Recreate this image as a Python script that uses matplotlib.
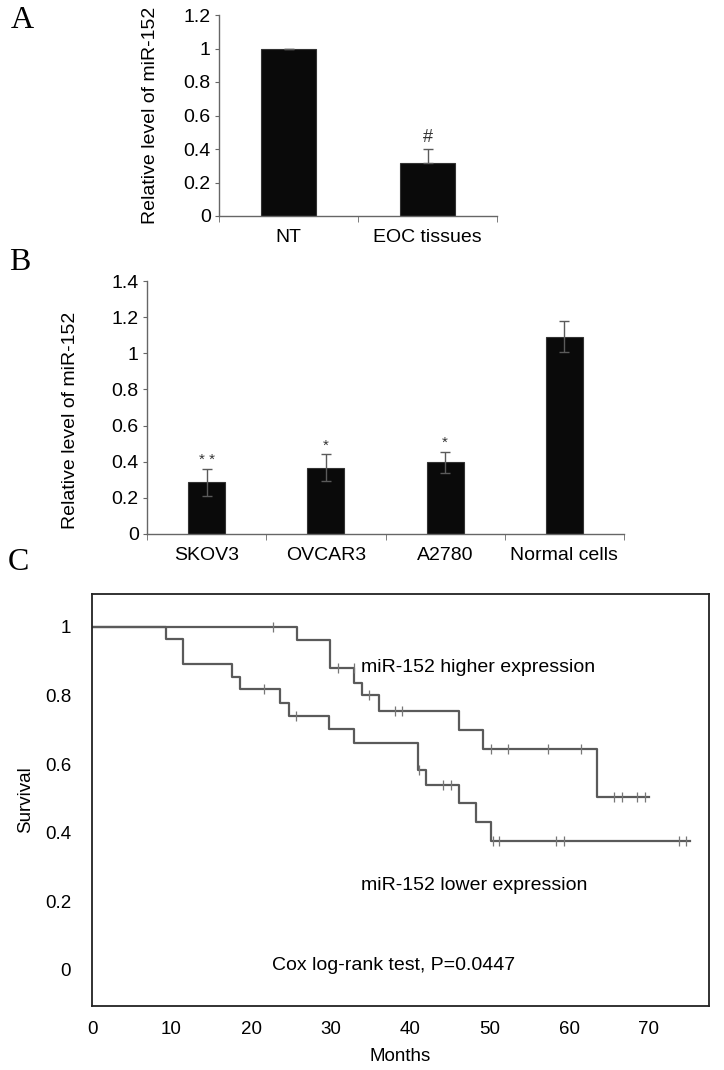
import numpy as np
import matplotlib

matplotlib.use("Agg")
import matplotlib.pyplot as plt

plt.rcParams["font.family"] = ["Liberation Sans", "DejaVu Sans"]

# panel A
a_groups = ["NT", "EOC tissues"]
a_values = [1.0, 0.318]
a_errors = [0.0, 0.08]
a_marks = ["", "#"]

# panel B
b_groups = ["SKOV3", "OVCAR3", "A2780", "Normal cells"]
b_values = [0.286, 0.367, 0.397, 1.092]
b_errors = [0.073, 0.074, 0.058, 0.085]
b_marks = ["* *", "*", "*", ""]

# panel C, Kaplan-Meier steps (months, survival)
high_times = [0, 25.8, 29.9, 33.0, 34.0, 36.1, 46.2, 49.2, 63.5]
high_surv = [1.0, 0.962, 0.881, 0.838, 0.801, 0.755, 0.701, 0.645, 0.505]
high_end = 70.0
high_censor = [22.8, 30.9, 32.9, 34.8, 38.1, 39.0, 50.2, 52.3, 57.4, 61.5, 65.6, 66.6, 68.6, 69.6]

low_times = [0, 9.3, 11.4, 17.6, 18.6, 23.7, 24.8, 29.8, 33.0, 41.0, 42.0, 46.2, 48.3, 50.2]
low_surv = [1.0, 0.964, 0.891, 0.855, 0.818, 0.779, 0.741, 0.702, 0.662, 0.583, 0.539, 0.486, 0.431, 0.377]
low_end = 75.2
low_censor = [21.6, 25.7, 41.1, 44.1, 45.1, 50.4, 51.2, 58.4, 59.4, 73.8, 74.7]

W, H = 724, 1070
fig = plt.figure(figsize=(W / 100, H / 100), dpi=100)


def box(left, top, right, bottom):
    return [left / W, 1 - bottom / H, (right - left) / W, (bottom - top) / H]


spine_col = "#666666"


def bar_panel(ax, groups, values, errors, marks, ymax, width, mark_pad, lower_err):
    x = np.arange(len(groups))
    ax.bar(x, values, width=width, color="#0a0a0a", edgecolor="#333333", linewidth=0.8)
    low = errors if lower_err else np.zeros(len(x))
    ax.errorbar(x, values, yerr=[low, errors], fmt="none", zorder=3,
                ecolor="#5a5a5a", elinewidth=1, capsize=3.5, capthick=1)
    for xi, v, e, m in zip(x, values, errors, marks):
        if m:
            ax.text(xi, v + e + mark_pad, m, ha="center", va="bottom",
                    fontsize=11 if m != "#" else 13, color="#333333")
    ax.set_xlim(-0.5, len(groups) - 0.5)
    ax.set_ylim(0, ymax)
    ticks = np.arange(0, ymax + 0.01, 0.2)
    ax.set_yticks(ticks)
    ax.set_yticklabels(["0"] + [f"{t:g}" for t in ticks[1:]])
    ax.set_xticks(x)
    ax.set_xticklabels(groups)
    ax.set_xticks(np.arange(-0.5, len(groups)), minor=True)
    ax.tick_params(axis="x", which="major", length=0, pad=9, labelsize=14)
    ax.tick_params(axis="x", which="minor", length=4, color=spine_col, direction="out")
    ax.tick_params(axis="y", length=3, color=spine_col, labelsize=14, pad=3)
    for s in ["top", "right"]:
        ax.spines[s].set_visible(False)
    for s in ["left", "bottom"]:
        ax.spines[s].set_color(spine_col)
        ax.spines[s].set_linewidth(1)
    ax.set_ylabel("Relative level of miR-152", fontsize=14)


ax_a = fig.add_axes(box(219, 15, 497, 216))
bar_panel(ax_a, a_groups, a_values, a_errors, a_marks, 1.2, 0.4, 0.02, False)
ax_a.yaxis.set_label_coords(-0.215, 0.5)

ax_b = fig.add_axes(box(147, 281, 624, 534))
bar_panel(ax_b, b_groups, b_values, b_errors, b_marks, 1.4, 0.31, 0.01, True)
ax_b.yaxis.set_label_coords(-0.142, 0.45)

# panel C
ax_c = fig.add_axes(box(92, 594, 709, 1006))
line_col = "#5a5a5a"
for times, surv, end, cens in [(high_times, high_surv, high_end, high_censor),
                               (low_times, low_surv, low_end, low_censor)]:
    ax_c.step(times + [end], surv + [surv[-1]], where="post", color=line_col, lw=1.6)
    idx = np.searchsorted(times, cens, side="right") - 1
    ax_c.plot(cens, np.array(surv)[idx], linestyle="none", marker="|",
              markersize=7, markeredgewidth=0.9, color="#777777")

ax_c.set_xlim(0, 77.6)
ax_c.set_ylim(-0.105, 1.096)
ax_c.set_xticks(range(0, 71, 10))
ax_c.set_yticks([0, 0.2, 0.4, 0.6, 0.8, 1])
ax_c.set_yticklabels(["0", "0.2", "0.4", "0.6", "0.8", "1"])
ax_c.tick_params(length=0, labelsize=13.5)
ax_c.tick_params(axis="y", pad=15)
ax_c.tick_params(axis="x", pad=11)
for s in ax_c.spines.values():
    s.set_color("#222222")
    s.set_linewidth(1.3)
ax_c.set_xlabel("Months", fontsize=13.5, labelpad=7)
ax_c.set_ylabel("Survival", fontsize=13.5, labelpad=8)

ax_c.text(33.8, 0.882, "miR-152 higher expression", fontsize=14, va="center", ha="left")
ax_c.text(33.8, 0.245, "miR-152 lower expression", fontsize=14, va="center", ha="left")
ax_c.text(22.6, 0.013, "Cox log-rank test, P=0.0447", fontsize=14, va="center", ha="left")

# panel letters
for letter, (px, py) in zip("ABC", [(22, 20), (20, 262), (18, 563)]):
    fig.text(px / W, 1 - py / H, letter, fontsize=23, family="Liberation Serif",
             ha="center", va="center")

fig.savefig("out.png", dpi=100)
